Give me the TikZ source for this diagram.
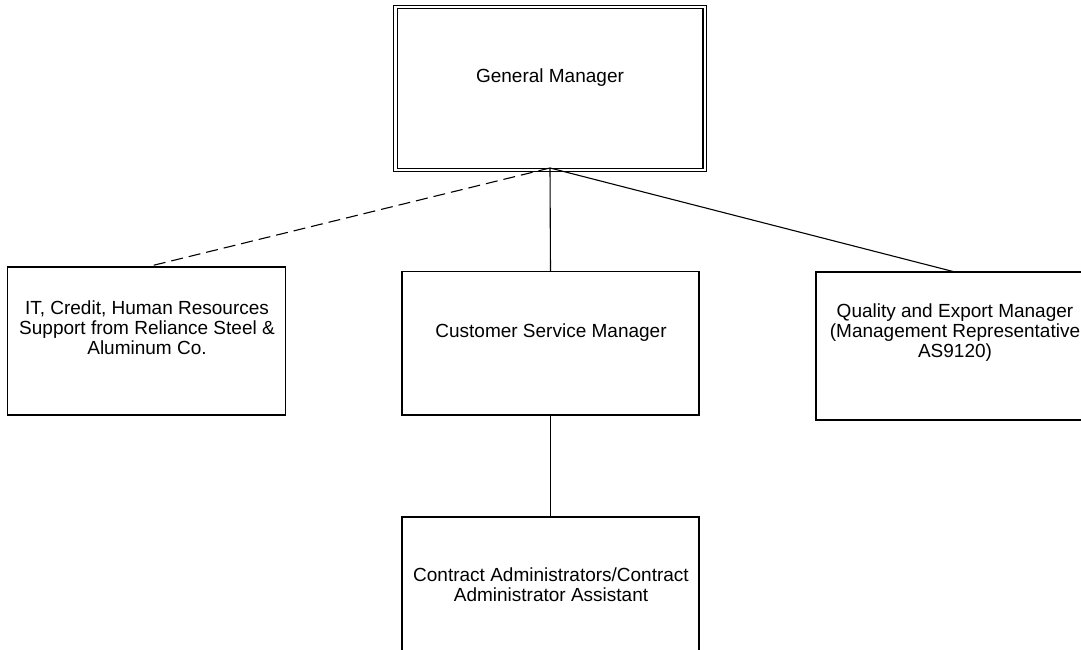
\documentclass[tikz,border=0pt]{standalone}
\usepackage{fontspec}
\setmainfont{Liberation Sans}
\begin{document}
\begin{tikzpicture}[x=1pt,y=-1pt,
  box/.style={draw,line width=1.1pt,inner sep=0pt,outer sep=0pt},
  lbl/.style={font=\fontsize{19}{20}\selectfont,align=center,inner sep=0pt,anchor=base},
  link/.style={line width=1.1pt},
  dlink/.style={line width=1.1pt,dash pattern=on 12pt off 6pt}]
\useasboundingbox (0,0) rectangle (1081,650);
% boxes
\node[box,double,double distance=2.5pt,minimum width=309.5pt,minimum height=163pt] (gm) at (550,88.5) {};
\node[box,minimum width=277.5pt,minimum height=148pt] (it) at (146.5,341) {};
\node[box,minimum width=297pt,minimum height=143.5pt] (csm) at (550.5,343.25) {};
\node[box,minimum width=278pt,minimum height=148pt] (q) at (955,346) {};
\node[box,minimum width=297pt,minimum height=160pt] (ca) at (550.5,597) {};
% texts (base = baseline of the last line)
\node[lbl] (gmt) at (550,83) {General Manager};
\node[lbl] (itt) at (147,354) {IT, Credit, Human Resources\\Support from Reliance Steel \&\\Aluminum Co.};
\node[lbl] (csmt) at (551,337) {Customer Service Manager};
\node[lbl] (qt) at (955,357) {Quality and Export Manager\\(Management Representative\\AS9120)};
\node[lbl] (cat) at (551,601) {Contract Administrators/Contract\\Administrator Assistant};
% connectors
\coordinate (gmb) at (550,168);
\draw[dlink] (gmb) -- (it.north);
\draw[link] (gmb) -- (csm.north);
\draw[link] (gmb) -- (q.north);
\draw[link] (csm.south) -- (ca.north);
\end{tikzpicture}
\end{document}
